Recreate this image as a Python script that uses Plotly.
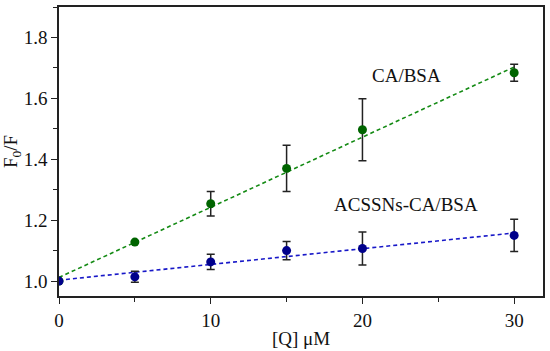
import plotly.graph_objects as go

q_um = [0, 5, 10, 15, 20, 30]
ca_bsa = [1.0, 1.128, 1.254, 1.370, 1.497, 1.684]
ca_bsa_err = [0.0, 0.0, 0.040, 0.076, 0.102, 0.028]
acs_bsa = [1.0, 1.014, 1.063, 1.100, 1.107, 1.150]
acs_bsa_err = [0.0, 0.018, 0.025, 0.030, 0.054, 0.053]

fit_x = [0, 30]
ca_fit = [1.012, 1.703]
acs_fit = [1.003, 1.158]

x_ticks = [0, 10, 20, 30]
y_ticks = [1.0, 1.2, 1.4, 1.6, 1.8]
y_tick_labels = ["1.0", "1.2", "1.4", "1.6", "1.8"]

GREEN = "#006400"
GREEN_LINE = "#138a13"
BLUE = "#00008B"
BLUE_LINE = "#1818c8"
FONT = "Liberation Serif, Times New Roman, serif"

fig = go.Figure()
fig.add_trace(go.Scatter(x=fit_x, y=ca_fit, mode="lines",
                         line=dict(color=GREEN_LINE, width=1.6, dash="4px,3px"),
                         showlegend=False, hoverinfo="skip"))
fig.add_trace(go.Scatter(x=fit_x, y=acs_fit, mode="lines",
                         line=dict(color=BLUE_LINE, width=1.6, dash="4px,3px"),
                         showlegend=False, hoverinfo="skip"))
fig.add_trace(go.Scatter(x=q_um, y=ca_bsa, mode="markers", name="CA/BSA",
                         marker=dict(color=GREEN, size=9),
                         error_y=dict(type="data", array=ca_bsa_err, visible=True,
                                      color="#222222", thickness=1.5, width=4),
                         showlegend=False))
fig.add_trace(go.Scatter(x=q_um, y=acs_bsa, mode="markers", name="ACSSNs-CA/BSA",
                         marker=dict(color=BLUE, size=9),
                         error_y=dict(type="data", array=acs_bsa_err, visible=True,
                                      color="#222222", thickness=1.5, width=4),
                         showlegend=False))

fig.add_annotation(x=22.9, y=1.676, text="CA/BSA", showarrow=False,
                   font=dict(family=FONT, size=19, color="#111111"))
fig.add_annotation(x=22.9, y=1.250, text="ACSSNs-CA/BSA", showarrow=False,
                   font=dict(family=FONT, size=19, color="#111111"))

fig.update_layout(
    width=550, height=351,
    margin=dict(l=59, r=5, t=5, b=54),
    paper_bgcolor="white", plot_bgcolor="white",
    font=dict(family=FONT, size=19, color="#111111"),
    xaxis=dict(range=[0, 31.9], tickvals=x_ticks, ticks="outside", ticklen=6,
               tickwidth=1, tickcolor="#222222",
               tickfont=dict(family=FONT, size=19, color="#111111"),
               minor=dict(dtick=5, ticks="outside", ticklen=4, tickcolor="#222222"),
               showgrid=False, zeroline=False, showline=True, linecolor="#222222",
               linewidth=1.5, mirror=True,
               title=dict(text="[Q] μM", standoff=2,
                          font=dict(family=FONT, size=19, color="#111111"))),
    yaxis=dict(range=[0.951, 1.90], tickvals=y_ticks, ticktext=y_tick_labels,
               ticks="outside", ticklen=6, tickwidth=1, tickcolor="#222222",
               tickfont=dict(family=FONT, size=19, color="#111111"),
               minor=dict(dtick=0.1, ticks="outside", ticklen=4, tickcolor="#222222"),
               showgrid=False, zeroline=False, showline=True, linecolor="#222222",
               linewidth=1.5, mirror=True,
               title=dict(text="F<sub>0</sub>/F", standoff=2,
                          font=dict(family=FONT, size=19, color="#111111"))),
)

fig.write_html("out.html", config={"displayModeBar": False},
               post_script="document.body.style.margin='0';")
